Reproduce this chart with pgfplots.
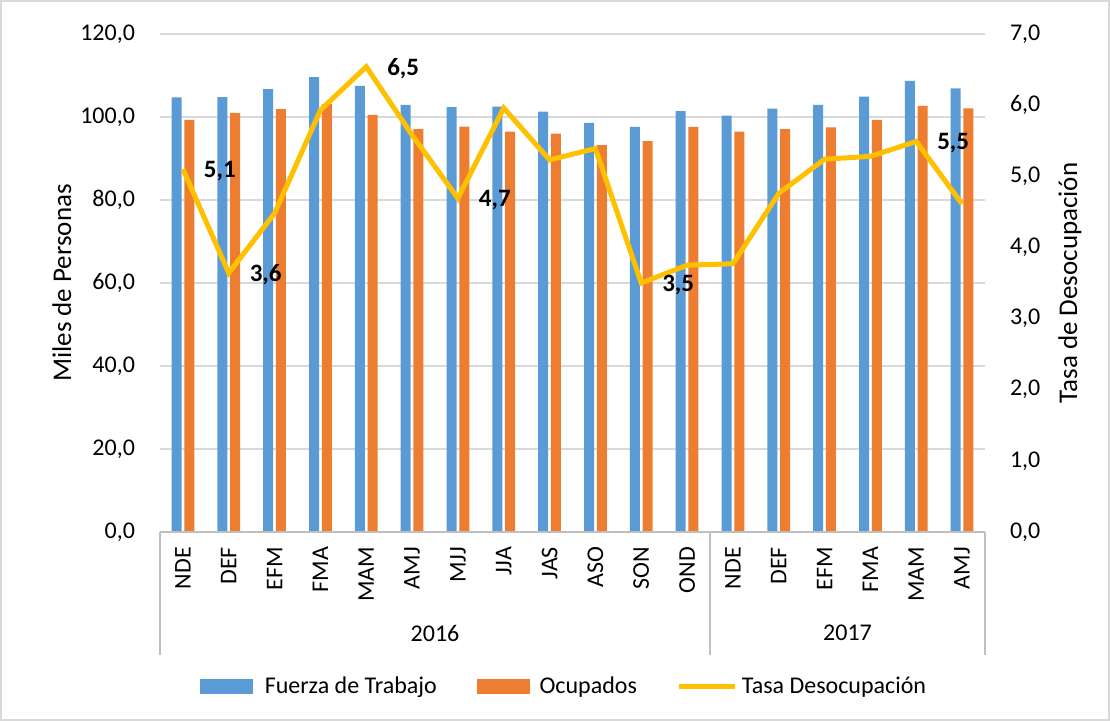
\documentclass[border=0pt]{standalone}
\usepackage{fontspec}
\setmainfont{Carlito}
\usepackage{pgfplots}
\pgfplotsset{compat=1.18}
\definecolor{fuerza}{HTML}{5B9BD5}
\definecolor{ocupa}{HTML}{ED7D31}
\definecolor{tasa}{HTML}{FFC000}
\definecolor{gridgray}{HTML}{D9D9D9}
\definecolor{axisgray}{HTML}{BFBFBF}

\pgfplotsset{
  base/.style={
    at={(80pt,94.5pt)}, anchor=south west,
    scale only axis, width=412.5pt, height=249pt,
    xmin=-0.5, xmax=17.5,
    axis line style={draw=none},
    major tick length=0pt,
    clip=false,
    tick label style={font=\fontsize{12}{14}\selectfont},
    label style={font=\fontsize{13.5}{16}\selectfont},
    /pgf/number format/.cd, fixed, fixed zerofill, precision=1, use comma, assume math mode=true,
  },
}

\begin{document}
\begin{tikzpicture}
\path[use as bounding box] (0,0) rectangle (555pt,360.5pt);
\draw[gridgray, line width=0.75pt] (0.5pt,0.5pt) rectangle (554.5pt,360pt);

% bars: Fuerza de Trabajo y Ocupados (miles de personas)
\begin{axis}[base,
  ymin=0, ymax=120, ytick={0,20,...,120},
  scaled y ticks=false,
  ymajorgrids, grid style={gridgray, line width=0.75pt},
  ylabel={Miles de Personas},
  ylabel style={at={(axis description cs:-0.119,0.5)}, anchor=center},
  yticklabel style={xshift=-9pt},
  xtick={0,...,17},
  xticklabels={NDE,DEF,EFM,FMA,MAM,AMJ,MJJ,JJA,JAS,ASO,SON,OND,NDE,DEF,EFM,FMA,MAM,AMJ},
  xticklabel style={yshift=-4pt, rotate=90, anchor=east},
  ybar=1.4pt, bar width=5pt]

\addplot[fill=fuerza, draw=none] coordinates {
  (0,104.7)(1,104.8)(2,106.7)(3,109.6)(4,107.5)(5,102.9)(6,102.4)(7,102.5)(8,101.3)
  (9,98.6)(10,97.6)(11,101.4)(12,100.3)(13,102.0)(14,102.9)(15,104.9)(16,108.7)(17,106.9)};
\addplot[fill=ocupa, draw=none] coordinates {
  (0,99.3)(1,101.0)(2,101.9)(3,103.1)(4,100.5)(5,97.1)(6,97.7)(7,96.5)(8,96.0)
  (9,93.2)(10,94.2)(11,97.6)(12,96.5)(13,97.1)(14,97.5)(15,99.3)(16,102.7)(17,102.1)};

% category axis with year groups
\draw[axisgray, line width=0.75pt] (axis cs:-0.5,0) -- (axis cs:17.5,0);
\draw[axisgray, line width=0.75pt] (axis cs:-0.5,0) -- ([yshift=-61.5pt]axis cs:-0.5,0);
\draw[axisgray, line width=0.75pt] (axis cs:11.5,0) -- ([yshift=-61.5pt]axis cs:11.5,0);
\draw[axisgray, line width=0.75pt] (axis cs:17.5,0) -- ([yshift=-61.5pt]axis cs:17.5,0);
\node[font=\fontsize{12}{14}\selectfont] at ([yshift=-50.5pt]axis cs:5.5,0) {2016};
\node[font=\fontsize{12}{14}\selectfont] at ([yshift=-50.5pt]axis cs:14.5,0) {2017};
\end{axis}

% line: tasa de desocupacion (right axis)
\begin{axis}[base,
  ymin=0, ymax=7, ytick={0,...,7},
  axis x line=none, axis y line*=right,
  ylabel={Tasa de Desocupación},
  ylabel style={at={(axis description cs:1.103,0.5)}, anchor=center},
  yticklabel style={xshift=9pt},
  legend style={at={(axis description cs:0.491,-0.311)}, anchor=center,
    draw=none, fill=none, legend columns=3,
    font=\fontsize{12}{14}\selectfont,
    /tikz/every even column/.append style={column sep=18pt}},
  legend cell align=left]

\addlegendimage{legend image code/.code={\fill[fuerza] (0pt,-3.5pt) rectangle (26pt,3.5pt); \path (30pt,0pt);}}
\addlegendentry{Fuerza de Trabajo}
\addlegendimage{legend image code/.code={\fill[ocupa] (0pt,-3.5pt) rectangle (26pt,3.5pt); \path (29pt,0pt);}}
\addlegendentry{Ocupados}

\addplot[tasa, line width=2.5pt, mark=none,
  legend image code/.code={\draw[tasa, line width=2.5pt] (0pt,0pt) -- (28pt,0pt);}]
  coordinates {
  (0,5.10)(1,3.64)(2,4.48)(3,5.93)(4,6.54)(5,5.58)(6,4.69)(7,5.96)(8,5.23)
  (9,5.39)(10,3.50)(11,3.75)(12,3.77)(13,4.76)(14,5.24)(15,5.28)(16,5.49)(17,4.61)};
\addlegendentry{Tasa Desocupación}

% data labels
\addplot[draw=none, mark=none, forget plot,
  nodes near coords, point meta=explicit symbolic,
  every node near coord/.style={anchor=west, xshift=7pt, yshift=-1pt,
    font=\fontsize{12.5}{15}\selectfont\bfseries}]
  coordinates {
  (0,5.10)[{5,1}] (1,3.64)[{3,6}] (4,6.54)[{6,5}] (6,4.69)[{4,7}]
  (10,3.50)[{3,5}] (16,5.49)[{5,5}]};
\end{axis}
\end{tikzpicture}
\end{document}
